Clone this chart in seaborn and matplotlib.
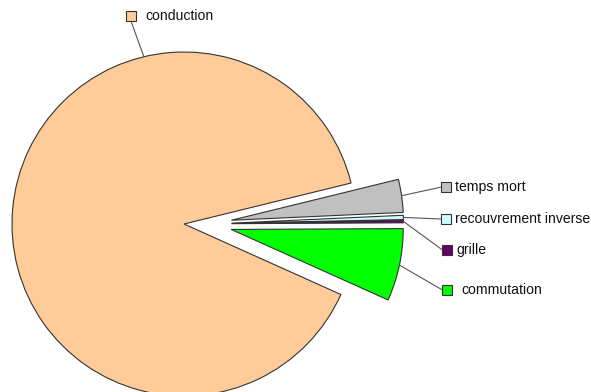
import math
import matplotlib
matplotlib.use("Agg")
import matplotlib.pyplot as plt
import seaborn as sns

# Loss breakdown (share of total losses, %)
categories = ["conduction", "temps mort", "recouvrement inverse", "grille", "commutation"]
shares = [89.45, 3.1, 0.4, 0.25, 6.8]
colors = ["#FFCC99", "#C0C0C0", "#CCFFFF", "#660066", "#00FF00"]

sns.set_style("white")
plt.rcParams["font.family"] = ["Liberation Sans", "DejaVu Sans"]

W, H = 591, 392
fig = plt.figure(figsize=(W / 100, H / 100), dpi=100)
ax = fig.add_axes([0, 0, 1, 1])

cx, cy, R = 184, H - 224, 172
pull = 47.5
wedges, _ = ax.pie(
    shares,
    colors=colors,
    startangle=335.8,
    counterclock=False,
    explode=[0, pull, pull, pull, pull],
    center=(cx, cy),
    radius=R,
    wedgeprops=dict(edgecolor="#333333", linewidth=0.8),
)
# pull the small slices out mostly horizontally, toward the labels
for w in wedges[1:]:
    mid = math.radians(0.55 * 0.5 * (w.theta1 + w.theta2 if w.theta2 < 180 else w.theta1 + w.theta2 - 720))
    w.set_center((cx + pull * math.cos(mid), cy + pull * math.sin(mid)))

ax.set_xlim(0, W)
ax.set_ylim(0, H)
ax.set_aspect("equal")
ax.axis("off")

# label boxes (marker centre, text x), in pixel coordinates from top-left
label_pos = [(131, 16, 145), (446, 187, 455), (446, 219, 455), (447, 250, 456), (447, 290, 461)]
# angle on the arc where each leader line starts (None = arc midpoint)
anchor_angle = [103.5, None, None, None, None]

for w, name, col, (mx, my, tx), ang in zip(wedges, categories, colors, label_pos, anchor_angle):
    if ang is None:
        ang = 0.5 * (w.theta1 + w.theta2)
    a = math.radians(ang)
    px = w.center[0] + w.r * math.cos(a)
    py = w.center[1] + w.r * math.sin(a)
    my_d = H - my
    if name == "conduction":
        end = (mx, my_d - 5)
    else:
        end = (mx - 4.5, my_d)
    ax.plot([px, end[0]], [py, end[1]], color="#555555", lw=0.8, zorder=3)
    ax.plot([mx], [my_d], marker="s", ms=6.5, mfc=col, mec="#333333", mew=0.8, zorder=4)
    ax.text(tx, my_d, name, fontsize=10.1, color="#111111", va="center", ha="left")

fig.savefig("out.png", dpi=100)
